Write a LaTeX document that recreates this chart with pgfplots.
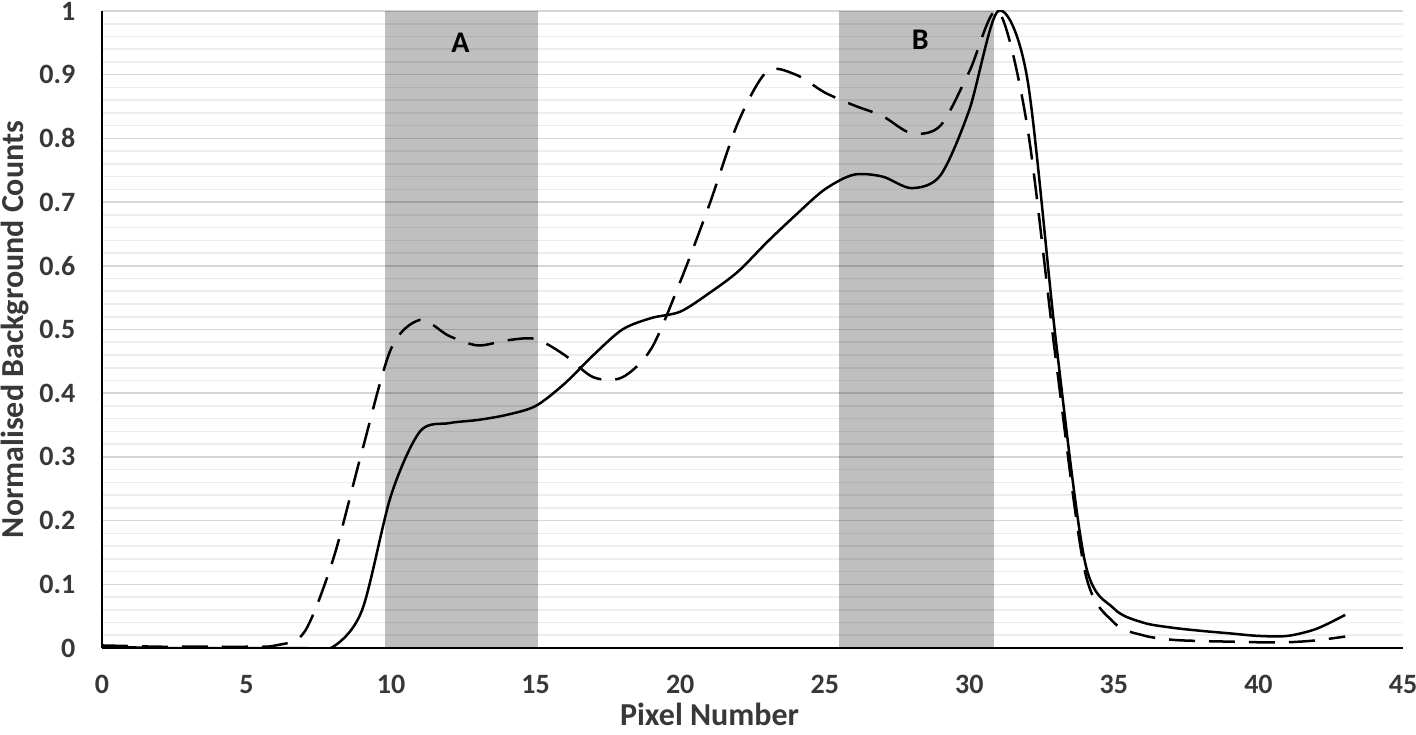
\documentclass[border=0pt]{standalone}
\usepackage{pgfplots}
\pgfplotsset{compat=1.18}
\usepackage{fontspec}
\setmainfont{Carlito}
\usetikzlibrary{calc}
\begin{document}
\begin{tikzpicture}
\begin{axis}[name=ax, scale only axis, width=650.5pt, height=318.5pt,
 xmin=0,xmax=45,ymin=0,ymax=1,
 axis lines=left, axis line style={-, line width=1.4pt, black},
 xtick={0,5,10,15,20,25,30,35,40,45},
 ytick={0,0.1,0.2,0.3,0.4,0.5,0.6,0.7,0.8,0.9,1},
 minor y tick num=4,
 ymajorgrids, yminorgrids,
 major grid style={line width=0.8pt, color=black!16},
 minor grid style={line width=0.8pt, color=black!7},
 major tick style={draw=none}, minor tick style={draw=none},
 /pgf/number format/assume math mode=true,
 ticklabel style={font=\fontsize{14}{16}\selectfont\bfseries, text=black!78},
 xticklabel style={anchor=center, yshift=-16pt},
 yticklabel style={anchor=east, inner sep=0pt, xshift=-11pt},
 xlabel={Pixel Number}, ylabel={Normalised Background Counts},
 label style={font=\fontsize{16}{18}\selectfont\bfseries, text=black!78},
 xlabel style={at={(axis description cs:0.467,-0.104)}, anchor=center},
 ylabel style={at={(axis description cs:-0.0668,0.5)}, anchor=center},
]
\fill[black, opacity=0.25] (axis cs:9.78,0) rectangle (axis cs:15.07,1);
\fill[black, opacity=0.25] (axis cs:25.5,0) rectangle (axis cs:30.87,1);
\node[font=\fontsize{15}{17}\selectfont\bfseries] at (axis cs:12.4,0.95) {A};
\node[font=\fontsize{15}{17}\selectfont\bfseries] at (axis cs:28.3,0.955) {B};
% solid
\addplot[black, line width=1.25pt, smooth, tension=0.5] coordinates {
(0,0.002)(1,0.001)(2,0)(3,0)(4,0)(5,0)(6,0)(7,0)(8,0.002)(9,0.06)(10,0.24)
(11,0.34)(12,0.353)(13,0.358)(14,0.366)(15,0.38)(16,0.415)(17,0.46)(18,0.5)
(19,0.518)(20,0.528)(21,0.557)(22,0.591)(23,0.637)(24,0.68)(25,0.72)(26,0.743)
(27,0.74)(28,0.722)(29,0.742)(30,0.845)(31,1.0)(32,0.895)(33,0.48)(34,0.135)
(35,0.062)(36,0.04)(37,0.032)(38,0.027)(39,0.023)(40,0.019)(41,0.019)(42,0.03)(43,0.052)
};
% dashed
\addplot[black, line width=1.25pt, smooth, tension=0.5, dash pattern=on 13pt off 7pt] coordinates {
(0,0.004)(1,0.003)(2,0.002)(3,0.002)(4,0.002)(5,0.002)(6,0.004)(7,0.025)(8,0.14)
(9,0.31)(10,0.47)(11,0.515)(12,0.49)(13,0.475)(14,0.483)(15,0.485)(16,0.46)
(17,0.425)(18,0.425)(19,0.47)(20,0.575)(21,0.695)(22,0.825)(23,0.905)(24,0.9)
(25,0.872)(26,0.852)(27,0.835)(28,0.808)(29,0.82)(30,0.905)(31,1.0)(32,0.82)
(33,0.45)(34,0.12)(35,0.04)(36,0.02)(37,0.013)(38,0.011)(39,0.01)(40,0.009)
(41,0.009)(42,0.012)(43,0.018)
};
\end{axis}
\pgfresetboundingbox
\path ($(ax.south west)+(-51pt,-43pt)$) rectangle ($(ax.north east)+(6.5pt,5.5pt)$);
\end{tikzpicture}
\end{document}
